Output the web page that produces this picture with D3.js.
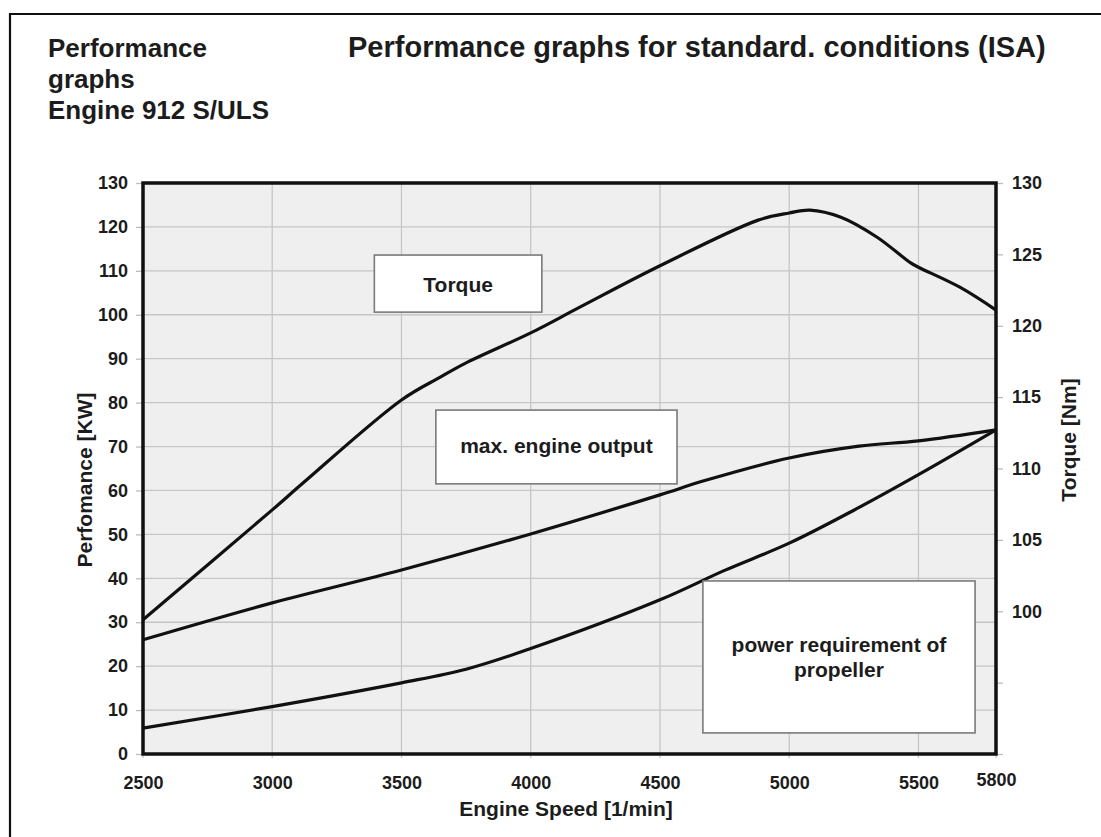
<!DOCTYPE html>
<html>
<head>
<meta charset="utf-8">
<script src="https://cdn.jsdelivr.net/npm/d3@7"></script>
<style>
  body { margin: 0; background: #fff; }
  svg text { font-family: "Liberation Sans", Arial, sans-serif; font-weight: bold; fill: #1c1c1c; }
</style>
</head>
<body>
<div id="chart"></div>
<script>
// data
var xTicks = [2500, 3000, 3500, 4000, 4500, 5000, 5500, 5800];
var kwTicks = [0, 10, 20, 30, 40, 50, 60, 70, 80, 90, 100, 110, 120, 130];
var nmTicks = [90, 95, 100, 105, 110, 115, 120, 125, 130];

// torque curve (right axis, Nm)
var torqueRpm = [2500, 3000, 3120, 3500, 3650, 3750, 4000, 4190, 4500, 4880, 5000, 5080, 5200, 5340, 5470, 5500, 5660, 5800];
var torqueNm  = [99.4, 107.1, 109.0, 114.8, 116.4, 117.4, 119.5, 121.3, 124.2, 127.4, 127.9, 128.1, 127.6, 126.2, 124.4, 124.1, 122.7, 121.1];

// max. engine output (left axis, kW)
var powerRpm = [2500, 3000, 3500, 4000, 4500, 4670, 5000, 5270, 5500, 5800];
var powerKW  = [26.0, 34.4, 41.9, 50.1, 59.0, 62.2, 67.4, 70.1, 71.3, 73.8];

// power requirement of propeller (left axis, kW)
var propRpm = [2500, 3000, 3500, 3750, 4000, 4500, 4750, 5000, 5250, 5500, 5800];
var propKW  = [5.9, 10.8, 16.2, 19.3, 24.0, 35.1, 41.8, 48.0, 55.5, 63.6, 73.8];

var svgWidth = 1101;
var svgHeight = 837;

var margin = { top: 183, right: 105, bottom: 83, left: 143 };
var chartWidth = svgWidth - margin.left - margin.right;
var chartHeight = svgHeight - margin.top - margin.bottom;

var svg = d3.select("#chart")
    .append("svg")
    .attr("width", svgWidth)
    .attr("height", svgHeight);

// outer frame (only top and left visible)
svg.append("path")
    .attr("d", "M10,1101 V14 H1101")
    .attr("fill", "none")
    .attr("stroke", "#111")
    .attr("stroke-width", 2.2);

// titles
var leftTitle = ["Performance", "graphs", "Engine 912 S/ULS"];
svg.selectAll(".ltitle")
    .data(leftTitle)
    .enter()
    .append("text")
    .attr("x", 48)
    .attr("y", (d, i) => 57 + i * 31)
    .style("font-size", "26px")
    .text(d => d);

svg.append("text")
    .attr("x", 348)
    .attr("y", 57)
    .style("font-size", "29px")
    .text("Performance graphs for standard. conditions (ISA)");

var chartGroup = svg.append("g")
    .attr("transform", `translate(${margin.left}, ${margin.top})`);

// scales
var xScale = d3.scaleLinear()
    .domain([2500, 5800])
    .range([0, chartWidth]);

var yScale = d3.scaleLinear()
    .domain([0, 130])
    .range([chartHeight, 0]);

var y2Scale = d3.scaleLinear()
    .domain([90, 130])
    .range([chartHeight, 0]);

// plot background
chartGroup.append("rect")
    .attr("width", chartWidth)
    .attr("height", chartHeight)
    .attr("fill", "#efefef");

// grid
chartGroup.selectAll(".hgrid")
    .data(kwTicks)
    .enter()
    .append("line")
    .attr("x1", 0)
    .attr("x2", chartWidth)
    .attr("y1", d => yScale(d))
    .attr("y2", d => yScale(d))
    .attr("stroke", "#c6c6c6")
    .attr("stroke-width", 1.3);

chartGroup.selectAll(".vgrid")
    .data(xTicks)
    .enter()
    .append("line")
    .attr("x1", d => xScale(d))
    .attr("x2", d => xScale(d))
    .attr("y1", 0)
    .attr("y2", chartHeight + 4)
    .attr("stroke", "#c6c6c6")
    .attr("stroke-width", 1.3);

// axes
var yAxis = d3.axisLeft(yScale).tickValues(kwTicks).tickSize(7).tickPadding(8);
var y2Axis = d3.axisRight(y2Scale).tickValues(nmTicks).tickSize(7).tickPadding(9)
    .tickFormat(d => d >= 100 ? d : "");
var xAxis = d3.axisBottom(xScale).tickValues(xTicks).tickSize(0).tickPadding(22)
    .tickFormat(d3.format("d"));

var gy = chartGroup.append("g").call(yAxis);
var gy2 = chartGroup.append("g").attr("transform", `translate(${chartWidth}, 0)`).call(y2Axis);
var gx = chartGroup.append("g").attr("transform", `translate(0, ${chartHeight})`).call(xAxis);

[gy, gy2, gx].forEach(function(g) {
    g.select(".domain").remove();
    g.selectAll(".tick line").attr("stroke", "#bdbdbd").attr("stroke-width", 1.3);
    g.selectAll("text")
        .style("font-family", "'Liberation Sans', Arial, sans-serif")
        .style("font-weight", "bold")
        .style("font-size", "18px")
        .attr("fill", "#222");
});
// 5800 label sits a bit higher
gx.selectAll(".tick text").filter(d => d == 5800).attr("dy", "0.55em");

// axis frame
chartGroup.append("rect")
    .attr("width", chartWidth)
    .attr("height", chartHeight)
    .attr("fill", "none")
    .attr("stroke", "#111")
    .attr("stroke-width", 3.5);

// curves
var line = d3.line().curve(d3.curveCatmullRom.alpha(0.5));

var curves = [
    torqueRpm.map((r, i) => [xScale(r), y2Scale(torqueNm[i])]),
    powerRpm.map((r, i) => [xScale(r), yScale(powerKW[i])]),
    propRpm.map((r, i) => [xScale(r), yScale(propKW[i])])
];

chartGroup.selectAll(".curve")
    .data(curves)
    .enter()
    .append("path")
    .attr("d", d => line(d))
    .attr("fill", "none")
    .attr("stroke", "#111")
    .attr("stroke-width", 3.2)
    .attr("stroke-linejoin", "round");

// label boxes
var boxes = [
    { x0: 3395, x1: 4043, y0: 113.6, y1: 100.6, lines: ["Torque"], base: 292 },
    { x0: 3633, x1: 4566, y0: 78.3, y1: 61.5, lines: ["max. engine output"], base: 453 },
    { x0: 4666, x1: 5719, y0: 39.4, y1: 4.8, lines: ["power requirement of", "propeller"], base: 652 }
];

boxes.forEach(function(b) {
    chartGroup.append("rect")
        .attr("x", xScale(b.x0))
        .attr("y", yScale(b.y0))
        .attr("width", xScale(b.x1) - xScale(b.x0))
        .attr("height", yScale(b.y1) - yScale(b.y0))
        .attr("fill", "#fff")
        .attr("stroke", "#7a7a7a")
        .attr("stroke-width", 1.6);
    b.lines.forEach(function(t, i) {
        chartGroup.append("text")
            .attr("x", (xScale(b.x0) + xScale(b.x1)) / 2)
            .attr("y", b.base - margin.top + i * 25)
            .attr("text-anchor", "middle")
            .style("font-size", "21px")
            .text(t);
    });
});

// axis titles
svg.append("text")
    .attr("transform", "translate(92, 480) rotate(-90)")
    .attr("text-anchor", "middle")
    .style("font-size", "21px")
    .text("Perfomance [KW]");

svg.append("text")
    .attr("transform", "translate(1076, 440) rotate(-90)")
    .attr("text-anchor", "middle")
    .style("font-size", "21px")
    .text("Torque [Nm]");

svg.append("text")
    .attr("x", 566)
    .attr("y", 816)
    .attr("text-anchor", "middle")
    .style("font-size", "21px")
    .text("Engine Speed [1/min]");
</script>
</body>
</html>
